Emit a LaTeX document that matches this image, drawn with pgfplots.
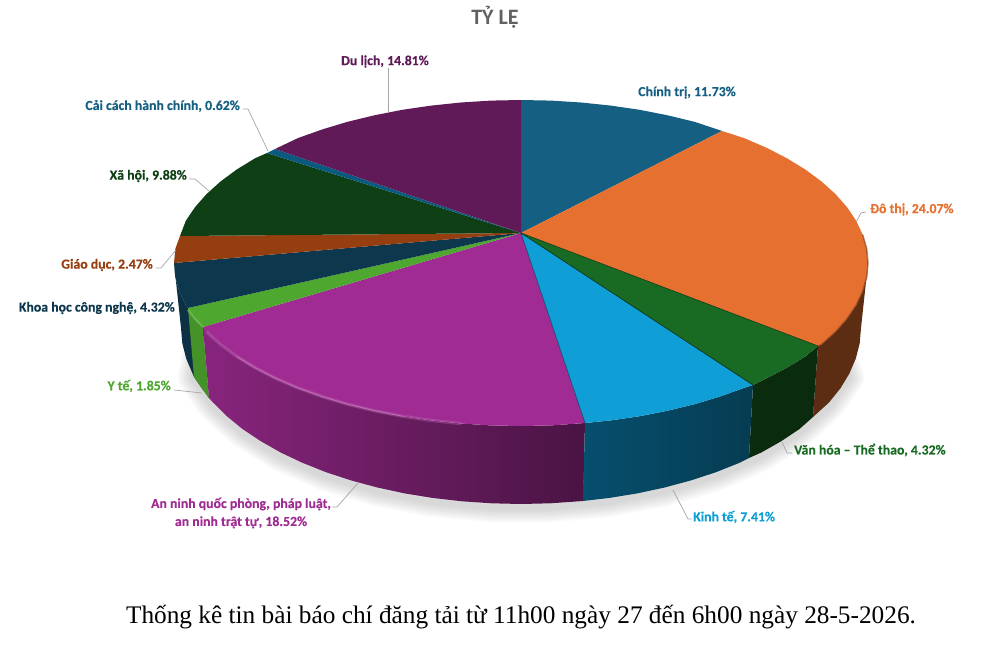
\documentclass[border=0pt]{standalone}
\usepackage{fontspec}
\setmainfont{Carlito}
\newfontfamily\capfont{Liberation Serif}
\usepackage{pgfplots}
\usepackage{pgfplotstable}
\pgfplotsset{compat=1.18}

\definecolor{cChinhTri}{HTML}{156082}
\definecolor{cDoThi}{HTML}{E5702F}
\definecolor{cVanHoa}{HTML}{196B24}
\definecolor{cKinhTe}{HTML}{0F9ED5}
\definecolor{cAnNinh}{HTML}{A02B93}
\definecolor{cYTe}{HTML}{4EA72E}
\definecolor{cKhoaHoc}{HTML}{0D374C}
\definecolor{cGiaoDuc}{HTML}{953E0F}
\definecolor{cXaHoi}{HTML}{0F3F14}
\definecolor{cCaiCach}{HTML}{0A5A80}
\definecolor{cDuLich}{HTML}{5F1A57}
\definecolor{cLead}{HTML}{A6A6A6}
\definecolor{cKinhL}{HTML}{064F6E}
\definecolor{cKinhR}{HTML}{063C52}

% lower outline of the pie, for the soft shadow
\pgfplotstableread{
x y
835 335
849.4 377.5
829.1 406.4
799.5 433
761.4 456.5
716 476.2
664.7 491.5
609 502
550.6 507.3
491.4 507.3
433 502
377.3 491.5
326 476.2
280.6 456.5
242.5 433
212.9 406.4
192.6 377.5
200 335
}\shadowline

\tikzset{lab/.style={inner sep=0pt,font=\fontsize{13.8}{18}\selectfont\bfseries\addfontfeature{FakeBold=0.3}},
  lead/.style={draw=cLead,line width=0.7pt},
  shadow/.style={draw=black,opacity=0.025,line join=round,line cap=round}}

\begin{document}
\begin{tikzpicture}
\begin{axis}[
  scale only axis,width=983pt,height=648pt,
  xmin=0,xmax=983,ymin=0,ymax=648,y dir=reverse,
  axis lines=none,clip=false]

  % page frame
  \path (axis cs:0,0) rectangle (axis cs:983,648);

  % shadow
  \addplot[shadow,line width=30pt] table {\shadowline};
  \addplot[shadow,line width=26pt] table {\shadowline};
  \addplot[shadow,line width=22pt] table {\shadowline};
  \addplot[shadow,line width=18pt] table {\shadowline};
  \addplot[shadow,line width=14pt] table {\shadowline};
  \addplot[shadow,line width=10pt] table {\shadowline};
  \addplot[shadow,line width=6pt] table {\shadowline};

  % sides
  \addplot[draw=none,fill=cKhoaHoc!90!black] coordinates {
    (188,308)(185.8,305.2)(179.3,291.3)(175.3,277.2)(174,263)
    (181,328)(182.3,343.3)(186.2,358.6)(194,377)(209,398)};
  \addplot[draw=none,fill=cYTe!88!black] coordinates {
    (203,327)(194.9,318.7)(188,308)
    (194,377)(201.5,388.2)(209,398)};
  \addplot[draw=none,fill=cDoThi!40!black] coordinates {
    (868,263)(866.7,277.2)(862.7,291.3)(856.2,305.2)(847.1,318.7)(835.5,331.9)(821.5,344.5)(818,346)
    (813,417)(829.1,402.4)(840.5,388.2)(849.4,373.5)(855.8,358.6)(859.7,343.3)(861,328)};
  \addplot[draw=none,fill=cVanHoa!40!black] coordinates {
    (818,346)(805.3,356.5)(786.8,367.8)(766.4,378.3)(753,385)
    (749,458)(761.4,452.5)(781.4,441.1)(799.5,429)(813,417)};
  \addplot[draw=none,left color=cAnNinh!85!black,middle color=cAnNinh!72!black,right color=cAnNinh!46!black] coordinates {
    (585,423)(551.3,425.4)(521,426)(490.7,425.4)(460.8,423.5)(431.2,420.4)(402.3,416.2)(374.4,410.7)
    (347.5,404.2)(322,396.5)(297.9,387.9)(275.6,378.3)(255.2,367.8)(236.7,356.5)(220.5,344.5)(206.5,331.9)(203,327)
    (209,398)(212.9,402.4)(226.6,416)(242.5,429)(260.6,441.1)(280.6,452.5)(302.4,462.8)(326,472.2)(351,480.4)
    (377.3,487.5)(404.7,493.4)(433,498)(462,501.3)(491.4,503.3)(521,504)(550.6,503.3)(583,501)};
  \addplot[draw=none,left color=cKinhL,right color=cKinhR] coordinates {
    (753,385)(744.1,387.9)(720,396.5)(694.5,404.2)(667.6,410.7)(639.7,416.2)(610.8,420.4)(585,423)
    (583,501)(609,498)(637.3,493.4)(664.7,487.5)(691,480.4)(716,472.2)(739.6,462.8)(749,458)};

  % top faces
  \addplot[draw=none,fill=cChinhTri] coordinates {
    (521,233)(722,131)(694.5,121.8)(667.6,115.3)(639.7,109.8)(610.8,105.6)(581.2,102.5)(551.3,100.6)(521,100)};
  \addplot[draw=none,fill=cDoThi] coordinates {
    (521,233)(818,346)(821.5,344.5)(835.5,331.9)(847.1,318.7)(856.2,305.2)(862.7,291.3)(866.7,277.2)(868,263)
    (866.7,248.8)(862.7,234.7)(856.2,220.8)(847.1,207.3)(835.5,194.1)(821.5,181.5)(805.3,169.5)(786.8,158.2)
    (766.4,147.7)(744.1,138.1)(722,131)};
  \addplot[draw=none,fill=cVanHoa] coordinates {
    (521,233)(753,385)(766.4,378.3)(786.8,367.8)(805.3,356.5)(818,346)};
  \addplot[draw=none,fill=cKinhTe] coordinates {
    (521,233)(585,423)(610.8,420.4)(639.7,416.2)(667.6,410.7)(694.5,404.2)(720,396.5)(744.1,387.9)(753,385)};
  \addplot[draw=none,fill=cAnNinh] coordinates {
    (521,233)(203,327)(206.5,331.9)(220.5,344.5)(236.7,356.5)(255.2,367.8)(275.6,378.3)(297.9,387.9)(322,396.5)
    (347.5,404.2)(374.4,410.7)(402.3,416.2)(431.2,420.4)(460.8,423.5)(490.7,425.4)(521,426)(551.3,425.4)(585,423)};
  \addplot[draw=none,fill=cYTe] coordinates {
    (521,233)(188,308)(194.9,318.7)(203,327)};
  \addplot[draw=none,fill=cKhoaHoc] coordinates {
    (521,233)(174,263)(175.3,277.2)(179.3,291.3)(185.8,305.2)(188,308)};
  \addplot[draw=none,fill=cGiaoDuc] coordinates {
    (521,233)(180,236)(175.3,248.8)(174,263)};
  \addplot[draw=none,fill=cXaHoi] coordinates {
    (521,233)(267,153)(255.2,158.2)(236.7,169.5)(220.5,181.5)(206.5,194.1)(194.9,207.3)(185.8,220.8)(180,236)};
  \addplot[draw=none,fill=cCaiCach] coordinates {
    (521,233)(275,149)(267,153)};
  \addplot[draw=none,fill=cDuLich] coordinates {
    (521,233)(275,149)(297.9,138.1)(322,129.5)(347.5,121.8)(374.4,115.3)(402.3,109.8)(431.2,105.6)(460.8,102.5)
    (490.7,100.6)(521,100)};

  % rim highlights and dark joins
  \addplot[draw=cAnNinh!70!white,opacity=0.35,line width=3.5pt] coordinates {
    (206.5,331.9)(220.5,344.5)(236.7,356.5)(255.2,367.8)(275.6,378.3)(297.9,387.9)(322,396.5)(347.5,404.2)(374.4,410.7)(402.3,416.2)(431.2,420.4)(460.8,423.5)};
  \addplot[draw=cAnNinh!70!white,line width=1pt] coordinates {
    (236.7,356.5)(255.2,367.8)(275.6,378.3)(297.9,387.9)(322,396.5)(347.5,404.2)(374.4,410.7)(402.3,416.2)};
  \addplot[draw=cYTe!80!white,opacity=0.8,line width=2pt] coordinates {(188,310)(194.9,318.7)(203,327)};
  \addplot[draw=cDoThi!55!black,opacity=0.6,line width=1.5pt] coordinates {
    (818,346)(821.5,344.5)(835.5,331.9)(847.1,318.7)(856.2,305.2)(862.7,291.3)(866.7,277.2)(868,263)(866.7,248.8)(862.7,234.7)};
  \addplot[draw=cKinhTe!55!black,line width=0.7pt] coordinates {(521,233)(585,423)};
  \addplot[draw=cVanHoa!45!black,line width=0.7pt] coordinates {(521,233)(753,385)};
  \addplot[draw=cVanHoa!55!black,line width=0.6pt] coordinates {(521,233)(818,346)};

  % leader lines
  \addplot[lead] coordinates {(388,68)(388,112)};
  \addplot[lead] coordinates {(866,212)(861,213)(856,222)};
  \addplot[lead] coordinates {(792,453)(787,453)(782,442)};
  \addplot[lead] coordinates {(673,490)(688,519)(692,519)};
  \addplot[lead] coordinates {(332,507)(337,507)(358,483)};
  \addplot[lead] coordinates {(174,390)(202,393)};
  \addplot[lead] coordinates {(156,268)(161,268)(176,250)};
  \addplot[lead] coordinates {(189,179)(195,179)(209,191)};
  \addplot[lead] coordinates {(243,109)(248,109)(268,151)};

  % labels
  \node[lab,text=cDuLich] at (axis cs:385,61.5) {Du lịch, 14.81\%};
  \node[lab,text=cChinhTri] at (axis cs:687,92.5) {Chính trị, 11.73\%};
  \node[lab,text=cDoThi,anchor=west] at (axis cs:870,209.5) {Đô thị, 24.07\%};
  \node[lab,text=cVanHoa,anchor=west] at (axis cs:794,450) {Văn hóa – Thể thao, 4.32\%};
  \node[lab,text=cKinhTe,anchor=west] at (axis cs:693,517) {Kinh tế, 7.41\%};
  \node[lab,text=cAnNinh,align=center] at (axis cs:241,513) {An ninh quốc phòng, pháp luật,\\an ninh trật tự, 18.52\%};
  \node[lab,text=cYTe,anchor=east] at (axis cs:171,386) {Y tế, 1.85\%};
  \node[lab,text=cKhoaHoc,anchor=east] at (axis cs:175,308) {Khoa học công nghệ, 4.32\%};
  \node[lab,text=cGiaoDuc,anchor=east] at (axis cs:153,265) {Giáo dục, 2.47\%};
  \node[lab,text=cXaHoi,anchor=east] at (axis cs:187,176) {Xã hội, 9.88\%};
  \node[lab,text=cChinhTri,anchor=east] at (axis cs:240,106) {Cải cách hành chính, 0.62\%};

  % title and caption
  \node[inner sep=0pt,text=black!62,font=\fontsize{22}{24}\selectfont\bfseries] at (axis cs:495,17) {TỶ LỆ};
  \node[inner sep=0pt,font=\fontsize{25.3}{28}\selectfont\capfont] at (axis cs:521,617) {Thống kê tin bài báo chí đăng tải từ 11h00 ngày 27 đến 6h00 ngày 28-5-2026.};
\end{axis}
\end{tikzpicture}
\end{document}
